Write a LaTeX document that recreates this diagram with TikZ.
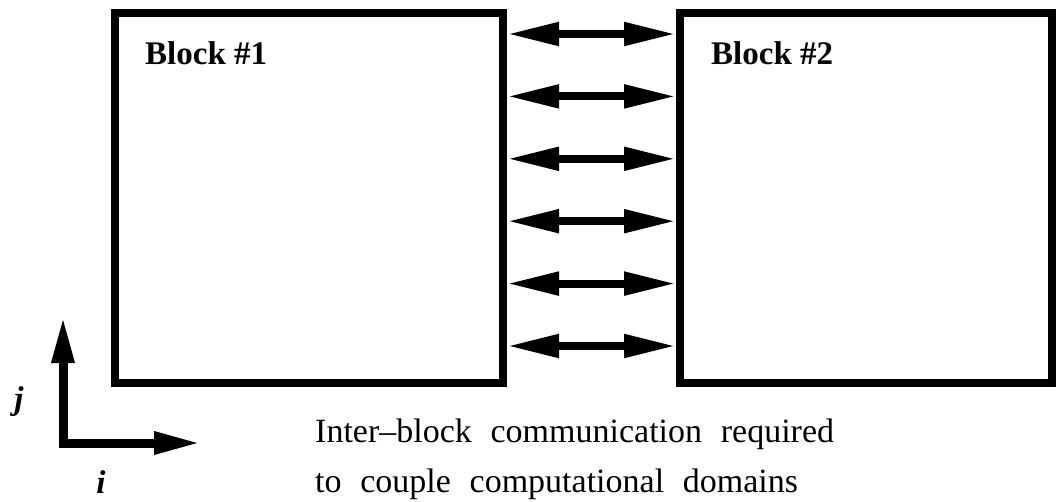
\documentclass[tikz,border=0pt]{standalone}
\usepackage{fontspec}
\setmainfont{Liberation Serif}
\newfontfamily\capfont[WordSpace=2.2]{Liberation Serif}
\usepackage{tikz}
\usetikzlibrary{calc,arrows.meta}
\tikzset{
  blockbox/.style={draw=black, line width=8pt, line join=miter, inner sep=0pt},
  link/.style={draw=black, line width=8pt, {Triangle[length=52pt,width=22pt]}-{Triangle[length=52pt,width=22pt]}},
  axis/.style={draw=black, line width=9pt, line join=miter, {Triangle[length=47pt,width=21pt]}-{Triangle[length=47pt,width=21pt]}},
  blocklab/.style={font=\fontsize{33}{36}\selectfont\bfseries, inner sep=0pt, anchor=base west},
  axlab/.style={font=\fontsize{33}{36}\selectfont\bfseries\itshape, inner sep=0pt},
  caplab/.style={font=\fontsize{34}{38}\selectfont\capfont, inner sep=0pt, anchor=base west},
}
\begin{document}
\begin{tikzpicture}[x=1pt,y=-1pt]
  \useasboundingbox (0,0) rectangle (1057,502);

  % the two blocks
  \node[blockbox, minimum width=388pt, minimum height=370pt] (block1) at (309,198) {};
  \node[blockbox, minimum width=372pt, minimum height=370pt] (block2) at (866,198) {};
  \node[blocklab] (name1) at (145,65) {Block \#1};
  \node[blocklab] (name2) at (711,65) {Block \#2};

  % inter-block links
  \foreach \y in {34,96.4,158.8,221.2,283.6,346}
    \draw[link] (block1.east |- 0,\y) -- (block2.west |- 0,\y);

  % index directions
  \coordinate (orig) at (63,443);
  \coordinate (jtip) at (63,316);
  \coordinate (itip) at (201,443);
  \draw[axis] (jtip) -- (orig) -- (itip);
  \node[axlab] (jlab) at (19,402) {j};
  \node[axlab] (ilab) at (101,482) {i};

  % caption
  \node[caplab] (cap1) at (315,442) {Inter\textendash block communication required};
  \node[caplab] (cap2) at ($(cap1.base west)+(0,50)$) {to couple computational domains};
\end{tikzpicture}
\end{document}
